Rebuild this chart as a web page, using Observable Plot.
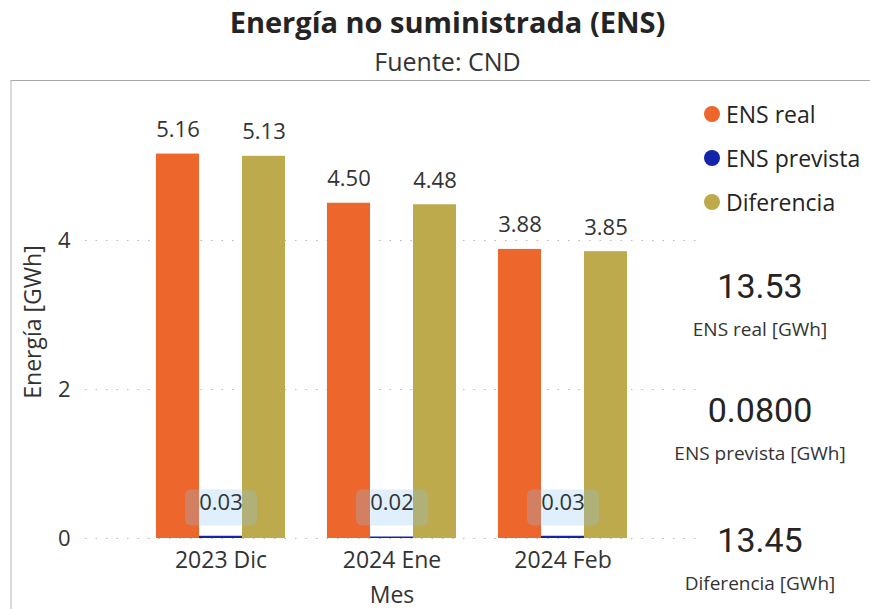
<!DOCTYPE html>
<html>
<head>
<meta charset="utf-8">
<script src="https://cdn.jsdelivr.net/npm/d3@7"></script>
<script src="https://cdn.jsdelivr.net/npm/@observablehq/plot@0.6"></script>
<style>
  html, body { margin: 0; padding: 0; background: #fff; }
  body { width: 870px; height: 609px; position: relative; overflow: hidden;
         font-family: "Open Sans", "Noto Sans", sans-serif; color: #252423; }
  .title { position: absolute; left: 0; width: 895px; top: 3px; text-align: center;
           font-size: 29px; font-weight: 700; line-height: 38px; }
  .subtitle { position: absolute; left: 0; width: 895px; top: 45px; text-align: center;
              font-size: 25px; line-height: 32px; color: #333; }
  .frame { position: absolute; left: 10px; top: 80px; right: 0; bottom: 0;
           border-top: 1px solid #a6a6a6; border-left: 2px solid #d9d9d9; }
  .layer { position: absolute; left: 0; top: 80px; }
  .legend { position: absolute; left: 704px; top: 92px; }
  .legend .item { display: flex; align-items: center; height: 44px; font-size: 23px; color: #252423; }
  .legend .sw { width: 16px; height: 16px; border-radius: 50%; margin-right: 6px; }
  .kpi { position: absolute; left: 660px; width: 200px; text-align: center; }
  .kpi .v { font-family: Roboto, sans-serif; font-size: 34px; line-height: 40px; color: #252423; }
  .kpi .l { font-size: 19px; line-height: 24px; color: #333; margin-top: 11px; }
</style>
</head>
<body>
<div class="title">Energía no suministrada (ENS)</div>
<div class="subtitle">Fuente: CND</div>
<div class="frame"></div>
<div class="layer" id="back"></div>
<div class="layer" id="chart"></div>
<div class="legend" id="legend"></div>
<div id="kpis"></div>
<script>
// ---- data ----
const meses = ["2023 Dic", "2024 Ene", "2024 Feb"];
const series = ["ENS real", "ENS prevista", "Diferencia"];
const ensReal = [5.16, 4.50, 3.88];
const ensPrevista = [0.03, 0.02, 0.03];
const diferencia = [5.13, 4.48, 3.85];
const colores = ["#ED672D", "#1424A8", "#BDAA4D"];
const yTicks = [0, 2, 4];
const totales = ["13.53", "0.0800", "13.45"];
const totalLabels = ["ENS real [GWh]", "ENS prevista [GWh]", "Diferencia [GWh]"];
const yLabel = "Energía [GWh]";
const xLabel = "Mes";

// build table
const valores = [ensReal, ensPrevista, diferencia];
const data = [];
meses.forEach((m, i) => series.forEach((s, j) => data.push({mes: m, serie: s, valor: valores[j][i]})));
const topData = data.filter(d => d.serie !== "ENS prevista");
const prevData = data.filter(d => d.serie === "ENS prevista");

// rounded-rectangle symbol for the label background
const roundRect = {
  draw(ctx) {
    const w = 36, h = 18, r = 6;
    ctx.moveTo(-w + r, -h);
    ctx.lineTo(w - r, -h); ctx.arcTo(w, -h, w, -h + r, r);
    ctx.lineTo(w, h - r); ctx.arcTo(w, h, w - r, h, r);
    ctx.lineTo(-w + r, h); ctx.arcTo(-w, h, -w, h - r, r);
    ctx.lineTo(-w, -h + r); ctx.arcTo(-w, -h, -w + r, -h, r);
    ctx.closePath();
  }
};

const common = {
  width: 870,
  height: 529,
  marginLeft: 85,
  marginRight: 172,
  marginTop: 11,
  marginBottom: 71,
  style: {fontFamily: "'Open Sans', 'Noto Sans', sans-serif", color: "#333", background: "transparent", overflow: "visible"}
};

// background: y grid, y axis and axis titles
const back = Plot.plot({
  ...common,
  y: {domain: [0, 6]},
  marks: [
    Plot.ruleY(yTicks, {stroke: "#b8b8b8", strokeDasharray: "1.5,9"}),
    Plot.axisY(yTicks, {tickSize: 0, tickPadding: 15, fontSize: 22, label: null, color: "#333", tickFormat: d => String(d)}),
    Plot.text([xLabel], {frameAnchor: "bottom", dy: 64, fontSize: 23, fill: "#333"}),
    Plot.text([yLabel], {frameAnchor: "left", textAnchor: "middle", rotate: -90, dx: -52, dy: 7, fontSize: 23, fill: "#333"})
  ]
});
document.getElementById("back").appendChild(back);

// grouped bars
const chart = Plot.plot({
  ...common,
  fx: {domain: meses, paddingInner: 0.2427, paddingOuter: 0.407, label: null},
  x: {domain: series, padding: 0, axis: null},
  y: {domain: [0, 6], axis: null},
  color: {domain: series, range: colores},
  marks: [
    Plot.barY(data, {fx: "mes", x: "serie", y: "valor", fill: "serie"}),
    Plot.dot(prevData, {fx: "mes", x: "serie", frameAnchor: "bottom", dy: -31, symbol: roundRect,
                        fill: "#8ac4f2", fillOpacity: 0.27, stroke: null}),
    Plot.text(topData, {fx: "mes", x: "serie", y: "valor", text: d => d.valor.toFixed(2),
                        dy: -24, fontSize: 22, fill: "#333"}),
    Plot.text(prevData, {fx: "mes", x: "serie", frameAnchor: "bottom", text: d => d.valor.toFixed(2),
                         dy: -29, fontSize: 22, fill: "#333"}),
    Plot.axisFx({anchor: "bottom", tickSize: 0, tickPadding: 13, fontSize: 23, label: null, color: "#333"})
  ]
});
document.getElementById("chart").appendChild(chart);

// legend
const legend = document.getElementById("legend");
series.forEach((s, i) => {
  const it = document.createElement("div");
  it.className = "item";
  it.innerHTML = `<span class="sw" style="background:${colores[i]}"></span><span>${s}</span>`;
  legend.appendChild(it);
});

// KPI cards
const kpis = document.getElementById("kpis");
const kpiTops = [266, 390, 520];
totales.forEach((v, i) => {
  const k = document.createElement("div");
  k.className = "kpi";
  k.style.top = kpiTops[i] + "px";
  k.innerHTML = `<div class="v">${v}</div><div class="l">${totalLabels[i]}</div>`;
  kpis.appendChild(k);
});
</script>
</body>
</html>
